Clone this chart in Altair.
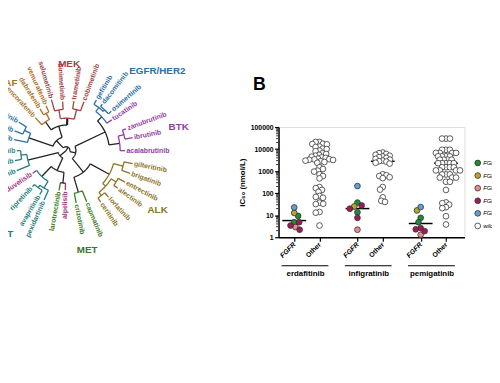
import math
from collections import defaultdict
import altair as alt
import pandas as pd

# ======================= Panel B values =======================
DRUGS = ["erdafitinib", "infigratinib", "pemigatinib"]
GENOTYPES = ["FGFR1 amplified", "FGFR2 amplified", "FGFR2 fusion",
             "FGFR3 fusion", "FGFR4 amplified", "wild-type"]
GENO_COLORS = ["#1f8a3b", "#b9a52c", "#ea8a8f", "#9c1b58", "#5f9fd8", "#ffffff"]
# the eight FGFR-altered cell lines (same order for every drug)
FGFR_LINES = ["FGFR1 amplified", "FGFR1 amplified", "FGFR2 amplified", "FGFR2 fusion",
              "FGFR3 fusion", "FGFR3 fusion", "FGFR3 fusion", "FGFR4 amplified"]
ERD_FGFR = [9.3, 4.8, 12.7, 2.9, 4.8, 3.4, 2.2, 22.5]
INF_FGFR = [37.6, 13.5, 25, 2.2, 27.7, 19.7, 7.6, 210]
PEM_FGFR = [7.6, 4.8, 16.5, 1.3, 2.6, 2.3, 1.9, 23.5]
ERD_OTHER = [21000, 21000, 17500, 17000, 16500, 13000, 12500, 10500, 10000, 8500, 8000,
             6500, 6000, 5500, 5000, 4500, 4200, 4000, 3700, 3500, 3400, 3300, 3200, 3000,
             2800, 2600, 2400, 1500, 1250, 1050, 950, 720, 600, 470,
             190, 170, 140, 115, 75, 68, 62, 37, 33, 32, 14, 13, 3.4]
INF_OTHER = [7000, 6500, 6000, 5500, 5000, 4600, 4300, 4000, 3600, 3300, 3000, 2800, 2700,
             2400, 2200, 720, 650, 600, 530, 480, 190, 145, 65, 45, 40]
PEM_OTHER = [30000, 30000, 30000,
             9300, 9300, 9300, 6700, 6700, 6700, 6700, 4700, 4700, 4700, 4700,
             3300, 3300, 3300, 3300, 2300, 2300, 2300, 2300, 2300,
             1500, 1500, 1500, 1500, 1080, 1080, 1080, 1080, 710, 710, 710,
             510, 510, 510, 330, 330,
             140, 38, 35, 30, 23, 21, 9, 3.8]
MEDIAN_FGFR = [5.7, 20, 4.2]
MEDIAN_OTHER = [3400, 2800, 2300]
Y_MAJOR = [1, 10, 100, 1000, 10000, 100000]

# ======================= Panel A (dendrogram) values =======================
LEAF_NAMES = ["afatinib", "neratinib", "mobocertinib", "encorafenib", "dabrafenib", "vemurafenib",
              "selumetinib", "binimetinib", "trametinib", "cobimetinib",
              "gefitinib", "dacomitinib", "osimertinib", "tucatinib",
              "zanubrutinib", "ibrutinib", "acalabrutinib",
              "gilteritinib", "brigatinib", "entrectinib", "alectinib", "lorlatinib", "ceritinib",
              "capmatinib", "crizotinib", "alpelisib", "larotrectinib",
              "pexidartinib", "avapritinib", "ripretinib", "duvelisib",
              "sunitinib", "imatinib", "pralsetinib"]
LEAF_GROUP = ["EGFR", "EGFR", "EGFR", "RAF", "RAF", "RAF",
              "MEK", "MEK", "MEK", "MEK",
              "EGFR", "EGFR", "EGFR", "BTK",
              "BTK", "BTK", "BTK",
              "ALK", "ALK", "ALK", "ALK", "ALK", "ALK",
              "MET", "MET", "PI3K", "MET",
              "KIT", "KIT", "KIT", "PI3K",
              "KIT", "KIT", "RET"]
LEAF_ANGLE = [-78, -69, -59, -43, -32, -24, -16, -4, 9, 20,
              31, 38, 49, 56, 70, 79, 90,
              101, 109.5, 118, 126, 137.5, 146,
              158, 169, 181, 190, 204, 211, 223, 236, 248, 259, 270]
LEAF_RADIUS = [54, 56, 56, 46, 50, 50, 54, 50, 51, 53,
               60, 60, 61, 56, 65, 69, 60,
               69, 69, 68, 65, 64, 63,
               56, 54, 40, 41, 55, 52, 50, 41, 54, 53, 50]
LEAF_PARENT = ["lb", "lb2", "lb2", "raf", "raf2", "raf2", "mek1", "mek1", "mek2", "mek2",
               "egfr1", "egfr2", "egfr2", "egfr", "btk1", "btk1", "btk",
               "alk1", "alk1", "alk3", "alk3", "alk4", "alk4",
               "met", "met", "al", "al", "kit1", "kit2", "kit2", "kit",
               "lg", "lg2", "lg2"]
NODE_ID = ["root", "top", "topleft", "lb", "lb2", "rm", "raf", "raf2", "mek", "mek1", "mek2",
           "right", "eb", "egfr", "egfr1", "egfr2", "btk", "btk1",
           "am", "alk", "alk1", "alk2", "alk3", "alk4", "met",
           "bottom", "bl", "al", "kit", "kit1", "kit2", "lg", "lg2"]
NODE_PARENT = [None, "root", "top", "topleft", "lb", "topleft", "rm", "raf", "rm", "mek", "mek",
               "top", "right", "eb", "egfr", "egfr1", "eb", "btk",
               "right", "am", "alk", "alk", "alk2", "alk2", "am",
               "root", "bottom", "bl", "bl", "kit", "kit1", "bottom", "lg"]
NODE_RADIUS = [0, 4, 14, 40, 47, 26, 36, 43, 33, 42, 43,
               10, 44, 50, 55, 57, 55, 61,
               28, 50, 60, 54, 60, 58, 44,
               8, 22, 33, 36, 44, 47, 40, 46]
NODE_CLADE = [None, None, None, "EGFR", "EGFR", None, "RAF", "RAF", "MEK", "MEK", "MEK",
              None, None, "EGFR", "EGFR", "EGFR", "BTK", "BTK",
              None, "ALK", "ALK", "ALK", "ALK", "ALK", "MET",
              None, None, None, "KIT", "KIT", "KIT", "KIT", "KIT"]
GROUP_LABELS = ["RAF", "MEK", "EGFR/HER2", "BTK", "ALK", "MET", "KIT"]
GROUP_LABEL_KEY = ["RAF", "MEK", "EGFR", "BTK", "ALK", "MET", "KIT"]
GROUP_LABEL_ANGLE = [-41, 2, 49, 78, 123, 168, 216]
GROUP_LABEL_RADIUS = [91, 88, 123, 117, 111, 103, 105]
GROUP_COLORS = {"RAF": "#a8701e", "MEK": "#a3403f", "EGFR": "#2b6ea6", "BTK": "#8f3d9e",
                "ALK": "#8c7323", "MET": "#3c7a1e", "KIT": "#217b7b", "PI3K": "#a1337e",
                "RET": "#2e8f6a"}
BRANCH_BLACK = "#222222"

# ======================= layout constants =======================
PB_W, PB_H = 189, 112
X_DOM = [-0.62, 6.73]
PXU = PB_W / (X_DOM[1] - X_DOM[0])
GROUP_GAP = 2.5

# ---------- beeswarm layout (pixel space) ----------
def swarm(vals, diam=3.8):
    ys = [PB_H * (1 - math.log10(v) / 5) for v in vals]
    order = sorted(range(len(vals)), key=lambda i: ys[i])
    placed, offs = [], [0.0] * len(vals)
    for k, i in enumerate(order):
        y = ys[i]
        best = None
        for j in range(0, 600):
            for sgn in ((1, -1) if k % 2 == 0 else (-1, 1)):
                o = sgn * j * 0.25
                if all((o - px) ** 2 + (y - py) ** 2 >= diam ** 2 for px, py in placed):
                    best = o
                    break
            if best is not None:
                break
        placed.append((best, y))
        offs[i] = best / PXU
    return offs

rows = []
for g, (drug, fg, ot) in enumerate(zip(DRUGS, [ERD_FGFR, INF_FGFR, PEM_FGFR],
                                       [ERD_OTHER, INF_OTHER, PEM_OTHER])):
    base = g * GROUP_GAP
    for v, o, geno in zip(fg, swarm(fg, 5.0), FGFR_LINES):
        rows.append({"drug": drug, "sub": "FGFR", "geno": geno, "v": v, "xp": base + o})
    for v, o in zip(ot, swarm(ot)):
        rows.append({"drug": drug, "sub": "Other", "geno": "wild-type", "v": v, "xp": base + 1 + o})
pts = pd.DataFrame(rows)

med_rows = []
for g in range(3):
    for s, m in ((0, MEDIAN_FGFR[g]), (1, MEDIAN_OTHER[g])):
        c = g * GROUP_GAP + s
        med_rows.append({"lo": c - 0.47, "hi": c + 0.47, "v": m})
meds = pd.DataFrame(med_rows)

minor = pd.DataFrame({"v": [m * 10 ** k for k in range(5) for m in range(2, 10)]})
grp = pd.DataFrame({"drug": DRUGS,
                    "center": [g * GROUP_GAP + 0.45 for g in range(3)],
                    "lo": [g * GROUP_GAP - 0.5 for g in range(3)],
                    "hi": [g * GROUP_GAP + 1.35 for g in range(3)]})

X_SCALE = alt.Scale(domain=X_DOM, nice=False, zero=False)
Y_SCALE = alt.Scale(type="log", domain=[1, 100000], nice=False)
FG_TEST = "indexof([0, 2.5, 5], datum.value) >= 0"
X_AXIS = alt.Axis(values=[0, 1, 2.5, 3.5, 5, 6],
                  labelExpr=f"{FG_TEST} ? 'FGFR' : 'Other'",
                  title=None, grid=False, domainColor="black", domainWidth=1.5,
                  tickColor="black", tickSize=4, tickWidth=1.2,
                  labelAngle=315, labelAlign="right", labelBaseline="middle", labelPadding=2,
                  labelFontSize=7, labelFontWeight="bold", labelColor="black",
                  labelFontStyle={"condition": {"test": FG_TEST, "value": "italic"}, "value": "normal"})
Y_AXIS = alt.Axis(values=Y_MAJOR, format="d", title="IC₅₀ (nmol/L)", grid=False,
                  domainColor="black", domainWidth=1.5, tickColor="black", tickSize=4, tickWidth=1.2,
                  labelFontSize=7, labelFontWeight="bold", labelColor="black", labelPadding=1.5,
                  titleFontSize=8, titleFontWeight="bold", titleColor="black",
                  titleX=-37, titleY=PB_H / 2, titleAngle=270, titleAlign="center",
                  titleBaseline="middle")

minor_layer = alt.Chart(minor).mark_rule(color="black", strokeWidth=0.8).encode(
    y=alt.Y("v:Q", scale=Y_SCALE, axis=Y_AXIS), x=alt.value(-0.5), x2=alt.value(-2.5))

point_layer = alt.Chart(pts).mark_point(filled=True, shape="circle", size=34, opacity=1,
                                        stroke="#333333", strokeWidth=0.8).encode(
    x=alt.X("xp:Q", scale=X_SCALE, axis=X_AXIS),
    y=alt.Y("v:Q", scale=Y_SCALE, axis=Y_AXIS),
    color=alt.Color("geno:N", scale=alt.Scale(domain=GENOTYPES, range=GENO_COLORS),
                    legend=alt.Legend(title=None, orient="none", legendX=199, legendY=33,
                                      labelFontSize=6, labelFontStyle="italic", labelColor="black",
                                      labelOffset=2,
                                      symbolSize=34, symbolType="circle", symbolStrokeColor="#333333",
                                      symbolStrokeWidth=0.8, symbolOpacity=1, rowPadding=1.8,
                                      labelLimit=300)))

med_layer = alt.Chart(meds).mark_rule(color="black", strokeWidth=1.5).encode(
    x=alt.X("lo:Q", scale=X_SCALE, axis=X_AXIS), x2="hi:Q",
    y=alt.Y("v:Q", scale=Y_SCALE, axis=Y_AXIS))

under_layer = alt.Chart(grp).mark_rule(color="black", strokeWidth=1.2).encode(
    x=alt.X("lo:Q", scale=X_SCALE, axis=X_AXIS), x2="hi:Q", y=alt.value(PB_H + 29))

glab_layer = alt.Chart(grp).mark_text(fontSize=8, fontWeight="bold", color="black",
                                      baseline="middle").encode(
    x=alt.X("center:Q", scale=X_SCALE, axis=X_AXIS), y=alt.value(PB_H + 37), text="drug:N")

b_layer = alt.Chart(pd.DataFrame({"t": ["B"]})).mark_text(
    fontSize=18, fontWeight="bold", color="black", align="left", baseline="alphabetic").encode(
    x=alt.value(-26), y=alt.value(-38), text="t:N")

panel_b = alt.layer(minor_layer, med_layer, point_layer, under_layer, glab_layer, b_layer)

# ---------- dendrogram geometry ----------
children = defaultdict(list)
radius, clade, parent = {}, {}, {}
for n, p, r, c in zip(NODE_ID, NODE_PARENT, NODE_RADIUS, NODE_CLADE):
    radius[n], clade[n], parent[n] = r, c, p
    if p is not None:
        children[p].append(n)
leaf_angle = dict(zip(LEAF_NAMES, LEAF_ANGLE))
leaf_group = dict(zip(LEAF_NAMES, LEAF_GROUP))
for n, p, r in zip(LEAF_NAMES, LEAF_PARENT, LEAF_RADIUS):
    radius[n], parent[n] = r, p
    children[p].append(n)

ang_cache = {}
def angle_of(n):
    if n in leaf_angle:
        return leaf_angle[n]
    if n not in ang_cache:
        a = [angle_of(c) for c in children[n]]
        ang_cache[n] = (min(a) + max(a)) / 2
    return ang_cache[n]

def polar(r, a):
    t = math.radians(a)
    return r * math.sin(t), -r * math.cos(t)

seg_rows = []
sid = 0
def add_seg(points, col, w):
    global sid
    for k, (x, y) in enumerate(points):
        seg_rows.append({"seg": sid, "ord": k, "dx": x, "dy": y, "col": col, "w": w})
    sid += 1

for n in list(NODE_ID) + list(LEAF_NAMES):
    p = parent[n]
    if p is None:
        continue
    a = angle_of(n)
    if n in leaf_angle:
        col = GROUP_COLORS[leaf_group[n]]
    else:
        col = GROUP_COLORS[clade[p]] if clade[p] else BRANCH_BLACK
    add_seg([polar(radius[p], a), polar(radius[n], a)], col, 2.2 if n == "mek" else 1.3)
for n in NODE_ID:
    r = radius[n]
    if r <= 0:
        continue
    a = [angle_of(c) for c in children[n]]
    a0, a1 = min(a), max(a)
    steps = max(2, int((a1 - a0) / 2) + 1)
    col = GROUP_COLORS[clade[n]] if clade[n] else BRANCH_BLACK
    add_seg([polar(r, a0 + (a1 - a0) * k / steps) for k in range(steps + 1)], col, 1.3)
segs = pd.DataFrame(seg_rows)

lab_rows = []
for n, g, a, r in zip(LEAF_NAMES, LEAF_GROUP, LEAF_ANGLE, LEAF_RADIUS):
    x, y = polar(r + 1.5, a)
    am = a % 360
    right = am < 180
    lab_rows.append({"name": n, "dx": x, "dy": y, "col": GROUP_COLORS[g], "right": right,
                     "ang": (a - 90) % 360 if right else (a + 90) % 360})
labs = pd.DataFrame(lab_rows)

gl_rows = []
for t, k, a, r in zip(GROUP_LABELS, GROUP_LABEL_KEY, GROUP_LABEL_ANGLE, GROUP_LABEL_RADIUS):
    x, y = polar(r, a)
    gl_rows.append({"t": t, "dx": x, "dy": y, "col": GROUP_COLORS[k]})
gls = pd.DataFrame(gl_rows)

HUB_X, HUB_Y = -216, 24  # hub position relative to panel B plot origin
DX_SCALE = alt.Scale(domain=[-100, 100], range=[HUB_X - 100, HUB_X + 100], nice=False, zero=False)
DY_SCALE = alt.Scale(domain=[-200, 200], range=[HUB_Y - 200, HUB_Y + 200], nice=False, zero=False)

line_layer = alt.Chart(segs).mark_line().encode(
    x=alt.X("dx:Q", scale=DX_SCALE, axis=None),
    y=alt.Y("dy:Q", scale=DY_SCALE, axis=None),
    detail="seg:N", order="ord:Q", color=alt.Color("col:N", scale=None),
    strokeWidth=alt.StrokeWidth("w:Q", scale=None))

lab_right = alt.Chart(labs[labs.right]).mark_text(fontSize=7, fontWeight="bold", align="left",
                                                  baseline="middle").encode(
    x=alt.X("dx:Q", scale=DX_SCALE, axis=None), y=alt.Y("dy:Q", scale=DY_SCALE, axis=None),
    text="name:N", angle=alt.Angle("ang:Q", scale=None), color=alt.Color("col:N", scale=None))
lab_left = alt.Chart(labs[~labs.right]).mark_text(fontSize=7, fontWeight="bold", align="right",
                                                  baseline="middle").encode(
    x=alt.X("dx:Q", scale=DX_SCALE, axis=None), y=alt.Y("dy:Q", scale=DY_SCALE, axis=None),
    text="name:N", angle=alt.Angle("ang:Q", scale=None), color=alt.Color("col:N", scale=None))
grp_layer = alt.Chart(gls).mark_text(fontSize=10, fontWeight="bold", align="center",
                                     baseline="middle").encode(
    x=alt.X("dx:Q", scale=DX_SCALE, axis=None), y=alt.Y("dy:Q", scale=DY_SCALE, axis=None),
    text="t:N", color=alt.Color("col:N", scale=None))

panel_a = alt.layer(line_layer, lab_right, lab_left, grp_layer)

chart = alt.layer(panel_b, panel_a).resolve_scale(
    x="independent", y="independent", color="independent"
).properties(
    width=PB_W, height=PB_H,
    autosize=alt.AutoSizeParams(type="none"),
    padding={"left": 275, "top": 118, "right": 28, "bottom": 137},
).configure_view(stroke=None).configure(font="Liberation Sans")

chart.save("out.html", embed_options={"renderer": "svg", "actions": False})
